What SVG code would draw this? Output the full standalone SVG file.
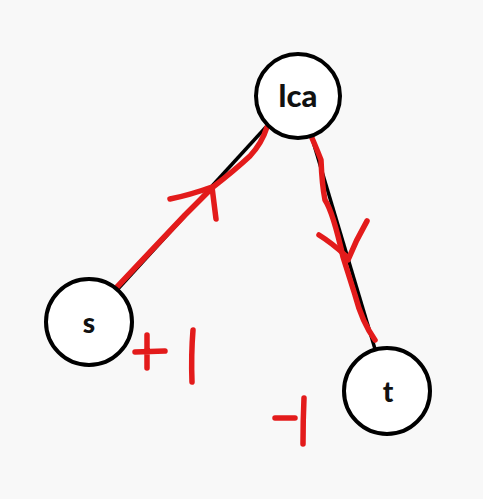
<svg xmlns="http://www.w3.org/2000/svg" width="483" height="499" viewBox="0 0 483 499">
<style>
.node circle{fill:#fff;stroke:#000;stroke-width:4}
.node text{font-family:Lato,"Liberation Sans",sans-serif;font-weight:900;fill:#111;text-anchor:middle}
.edge{stroke:#000;stroke-width:3.5;fill:none}
.ink{stroke:#e31b1b;stroke-width:5.5;fill:none;stroke-linecap:round;stroke-linejoin:round}
</style>
<rect width="483" height="499" fill="#f8f8f8"/>
<g id="connectors">
<line class="edge" x1="117" y1="290" x2="266" y2="127"/>
<line class="edge" x1="312" y1="138" x2="375" y2="349"/>
<path class="ink" d="M117,287 L150,252 L185,215 L213,187 Q235,170 250,156 Q262,143 267,127"/>
<path class="ink" d="M170,199 Q190,195 212,187 Q214,203 216,219"/>
<path class="ink" d="M312,138 Q318,152 321,160 Q322,185 325,200 Q333,212 343,257 L355,295 Q362,322 375,340"/>
<path class="ink" d="M319,235 Q332,243 346,256 M367,221 Q356,240 348,260"/>
</g>
<g id="lca" class="node"><circle cx="298" cy="96" r="42"/><text x="298" y="107" font-size="31">lca</text></g>
<g id="s" class="node"><circle cx="89" cy="322" r="43"/><text x="89" y="333" font-size="28">s</text></g>
<g id="t" class="node"><circle cx="387" cy="391" r="43"/><text x="388" y="402" font-size="28">t</text></g>
<g id="labels">
<path class="ink" d="M135,352 L165,351 M147,335 L147,368 M193,330 Q191,355 192,382"/>
<path class="ink" d="M275,418 L295,418 M304,398 Q303,420 303,444"/>
</g>
</svg>
